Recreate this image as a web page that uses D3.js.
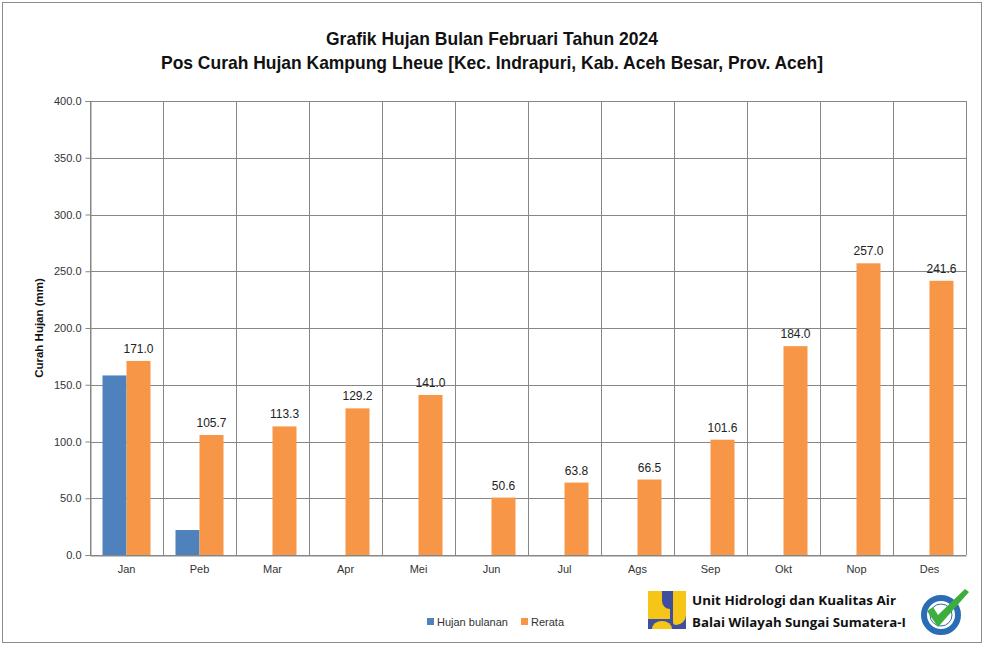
<!DOCTYPE html>
<html><head><meta charset="utf-8">
<script src="https://cdn.jsdelivr.net/npm/d3@7"></script>
<style>body{margin:0;background:#fff}svg{display:block}</style>
</head><body>
<script>
const months = ["Jan","Peb","Mar","Apr","Mei","Jun","Jul","Ags","Sep","Okt","Nop","Des"];
const hujanBulanan = [158.2, 22.0, null, null, null, null, null, null, null, null, null, null];
const rerata = [171.0, 105.7, 113.3, 129.2, 141.0, 50.6, 63.8, 66.5, 101.6, 184.0, 257.0, 241.6];
const yTicks = [0, 50, 100, 150, 200, 250, 300, 350, 400];
const titleLines = ["Grafik Hujan Bulan Februari Tahun 2024", "Pos Curah Hujan Kampung Lheue [Kec. Indrapuri, Kab. Aceh Besar, Prov. Aceh]"];
const seriesNames = ["Hujan bulanan", "Rerata"];
const colors = ["#4F81BD", "#F79646"];

const W = 984, H = 645;
const m = {left: 90, right: 18, top: 101, bottom: 90};
const svg = d3.select("body").append("svg").attr("width", W).attr("height", H);
svg.append("rect").attr("x", 2.5).attr("y", 2.5).attr("width", W - 5).attr("height", H - 5)
  .attr("fill", "#fff").attr("stroke", "#8c8c8c").attr("stroke-width", 1);

const x0 = d3.scaleBand().domain(months).range([m.left, W - m.right]).paddingInner(0).paddingOuter(0);
const y = d3.scaleLinear().domain([0, 400]).range([H - m.bottom, m.top]);

const g = svg.append("g");
g.selectAll(".hg").data(yTicks).join("line")
  .attr("x1", m.left).attr("x2", W - m.right)
  .attr("y1", d => Math.round(y(d)) + 0.5).attr("y2", d => Math.round(y(d)) + 0.5)
  .attr("stroke", "#878787").attr("stroke-width", 1);
const bounds = months.map(d => x0(d)).concat([W - m.right]);
g.selectAll(".vg").data(bounds).join("line")
  .attr("x1", d => Math.round(d) + 0.5).attr("x2", d => Math.round(d) + 0.5)
  .attr("y1", y(400)).attr("y2", y(0))
  .attr("stroke", "#878787").attr("stroke-width", 1);

const yAxis = d3.axisLeft(y).tickValues(yTicks).tickFormat(d3.format(".1f")).tickSize(5).tickPadding(4);
const ya = svg.append("g").attr("transform", `translate(${m.left + 0.5},0)`).call(yAxis);
ya.select(".domain").attr("stroke", "#878787");
ya.selectAll(".tick line").attr("stroke", "#878787");
ya.selectAll(".tick text").attr("font-family", "Liberation Sans, Arial, sans-serif").attr("font-size", 11).attr("fill", "#333");

const xAxis = d3.axisBottom(x0).tickSize(0).tickPadding(10);
const xa = svg.append("g").attr("transform", `translate(0,${y(0) + 0.5})`).call(xAxis);
xa.select(".domain").attr("stroke", "#878787");
xa.selectAll(".tick text").attr("font-family", "Liberation Sans, Arial, sans-serif").attr("font-size", 11).attr("fill", "#333");

const series = [hujanBulanan, rerata];
const bw = 24;
series.forEach((vals, si) => {
  svg.append("g").selectAll("rect").data(months.map((mo, i) => ({mo, v: vals[i]})).filter(d => d.v != null))
    .join("rect")
    .attr("x", d => x0(d.mo) + x0.bandwidth() / 2 - bw + si * bw)
    .attr("width", bw)
    .attr("y", d => y(d.v))
    .attr("height", d => y(0) - y(d.v))
    .attr("fill", colors[si]);
});
svg.append("g").selectAll("text").data(months.map((mo, i) => ({mo, v: rerata[i]})))
  .join("text")
  .attr("x", d => x0(d.mo) + x0.bandwidth() / 2 + bw / 2)
  .attr("y", d => y(d.v) - 8)
  .attr("text-anchor", "middle")
  .attr("font-family", "Liberation Sans, Arial, sans-serif").attr("font-size", 12).attr("fill", "#222")
  .text(d => d.v.toFixed(1));

svg.append("g").selectAll("text").data(titleLines).join("text")
  .attr("x", 492).attr("y", (d, i) => 45 + i * 24)
  .attr("text-anchor", "middle")
  .attr("font-family", "Liberation Sans, Arial, sans-serif")
  .attr("font-weight", "bold").attr("font-size", 19).attr("fill", "#111")
  .attr("textLength", (d, i) => i === 0 ? 332 : 662).attr("lengthAdjust", "spacingAndGlyphs")
  .text(d => d);

svg.append("text").attr("transform", "translate(43,328) rotate(-90)")
  .attr("text-anchor", "middle")
  .attr("font-family", "Liberation Sans, Arial, sans-serif").attr("font-weight", "bold").attr("font-size", 11.5).attr("fill", "#111")
  .text("Curah Hujan (mm)");

const leg = svg.append("g");
const legX = [427, 521];
seriesNames.forEach((n, i) => {
  leg.append("rect").attr("x", legX[i]).attr("y", 618).attr("width", 7).attr("height", 7).attr("fill", colors[i]);
  leg.append("text").attr("x", legX[i] + 10).attr("y", 626)
    .attr("font-family", "Liberation Sans, Arial, sans-serif").attr("font-size", 11).attr("fill", "#333").text(n);
});

const lg = svg.append("g").attr("transform", "translate(648,591)");
lg.append("rect").attr("width", 38).attr("height", 38).attr("fill", "#3f4fa0");
lg.append("path").attr("d", "M0,0 H14 V10 A8,8 0 0 0 22,18 V28 H0 Z").attr("fill", "#f5c518");
lg.append("path").attr("d", "M25,0 H38 V24 A10,10 0 0 1 28,34 A3,3 0 0 1 25,31 Z").attr("fill", "#f5c518");
lg.append("path").attr("d", "M4,38 A10,8 0 0 1 24,38 Z").attr("fill", "#f5c518");

svg.append("g").selectAll("text").data(["Unit Hidrologi dan Kualitas Air", "Balai Wilayah Sungai Sumatera-I"]).join("text")
  .attr("x", 692).attr("y", (d, i) => 605 + i * 22)
  .attr("font-family", "Open Sans, Noto Sans, sans-serif").attr("font-weight", "bold").attr("font-size", 13)
  .attr("textLength", (d, i) => i === 0 ? 204 : 214).attr("lengthAdjust", "spacingAndGlyphs")
  .attr("fill", "#111").text(d => d);

const iso = svg.append("g").attr("transform", "translate(941,615)");
iso.append("circle").attr("r", 17).attr("fill", "none").attr("stroke", "#2a6db5").attr("stroke-width", 6);
iso.append("circle").attr("r", 11).attr("fill", "#fff").attr("stroke", "#2a6db5").attr("stroke-width", 1);
iso.append("path").attr("d", "M-14,-4 L-8,-8 L-3,0 L24,-26 L28,-23 L-3,12 Z").attr("fill", "#3cae3c");
</script>
</body></html>
